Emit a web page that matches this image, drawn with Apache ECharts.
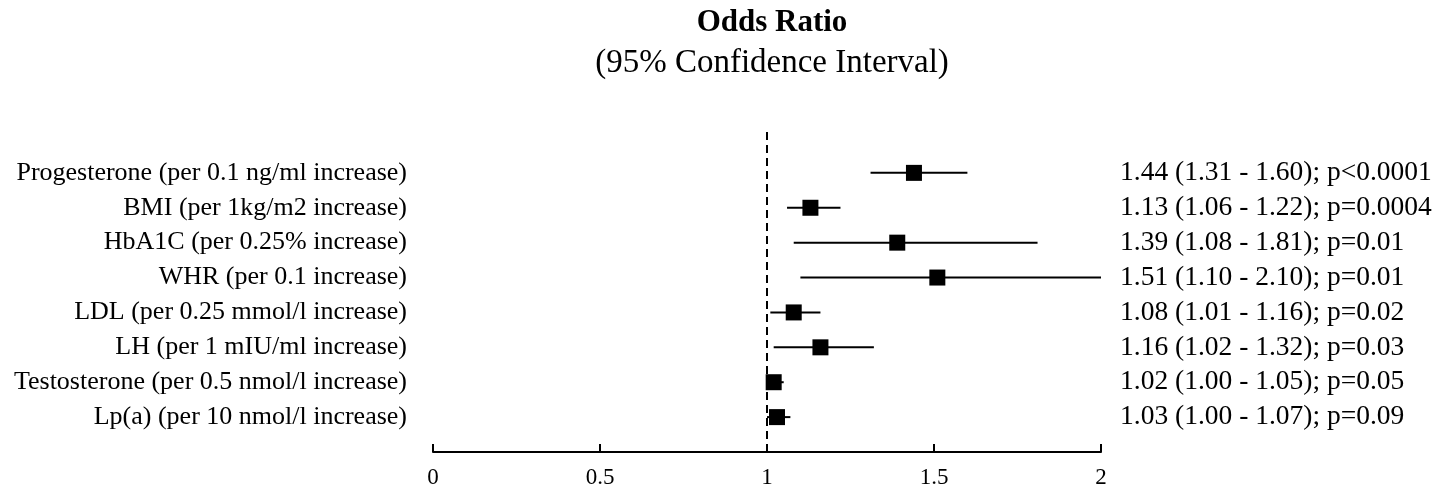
<!DOCTYPE html>
<html><head><meta charset="utf-8">
<script src="https://cdn.jsdelivr.net/npm/echarts@6/dist/echarts.min.js"></script>
<style>html,body{margin:0;padding:0;background:#fff}#c{width:1449px;height:490px}</style>
</head><body><div id="c"></div>
<script>
const categories = [
  'Progesterone (per 0.1 ng/ml increase)',
  'BMI (per 1kg/m2 increase)',
  'HbA1C (per 0.25% increase)',
  'WHR (per 0.1 increase)',
  'LDL (per 0.25 mmol/l increase)',
  'LH (per 1 mIU/ml increase)',
  'Testosterone (per 0.5 nmol/l increase)',
  'Lp(a) (per 10 nmol/l increase)'
];
const oddsRatio = [1.44, 1.13, 1.39, 1.51, 1.08, 1.16, 1.02, 1.03];
const ciLow     = [1.31, 1.06, 1.08, 1.10, 1.01, 1.02, 1.00, 1.00];
const ciHigh    = [1.60, 1.22, 1.81, 2.10, 1.16, 1.32, 1.05, 1.07];
const pText     = ['p<0.0001', 'p=0.0004', 'p=0.01', 'p=0.01', 'p=0.02', 'p=0.03', 'p=0.05', 'p=0.09'];
const xTicks = ['0', '0.5', '1', '1.5', '2'];

const n = categories.length;
const rowVal = i => n - i; // top row highest
const rightLabels = oddsRatio.map((v, i) =>
  v.toFixed(2) + ' (' + ciLow[i].toFixed(2) + ' - ' + ciHigh[i].toFixed(2) + '); ' + pText[i]);

const FONT = '"Liberation Serif", "Times New Roman", serif';
const labelFor = arr => v => {
  const k = Math.round(v);
  if (Math.abs(v - k) > 1e-6) return '';
  const i = n - k;
  return (i >= 0 && i < n) ? arr[i] : '';
};

const chart = echarts.init(document.getElementById('c'));
chart.setOption({
  animation: false,
  backgroundColor: '#fff',
  title: [
    { text: 'Odds Ratio', left: 767, textAlign: 'center', top: 2,
      textStyle: { fontFamily: FONT, fontWeight: 'bold', fontSize: 31, color: '#000' } },
    { text: '(95% Confidence Interval)', left: 767, textAlign: 'center', top: 42,
      textStyle: { fontFamily: FONT, fontWeight: 'normal', fontSize: 33, color: '#000' } }
  ],
  grid: { left: 433, right: 348, top: 131, bottom: 38 },
  xAxis: {
    type: 'value', min: 0, max: 2, interval: 0.5,
    axisLine: { show: true, onZero: false, lineStyle: { color: '#000', width: 2 } },
    axisTick: { show: true, inside: true, length: 8, lineStyle: { color: '#000', width: 2 } },
    axisLabel: { fontFamily: FONT, fontSize: 23, color: '#000', margin: 14,
      formatter: v => { const i = Math.round(v / 0.5); return xTicks[i] !== undefined ? xTicks[i] : ''; } },
    splitLine: { show: false }
  },
  yAxis: [
    { type: 'value', min: 0, max: 9.2, interval: 1, position: 'left',
      axisLine: { show: false }, axisTick: { show: false }, splitLine: { show: false },
      axisLabel: { fontFamily: FONT, fontSize: 26, color: '#000', margin: 26, formatter: labelFor(categories) } },
    { type: 'value', min: 0, max: 9.2, interval: 1, position: 'right',
      axisLine: { show: false }, axisTick: { show: false }, splitLine: { show: false },
      axisLabel: { fontFamily: FONT, fontSize: 27.5, color: '#000', margin: 19, formatter: labelFor(rightLabels) } }
  ],
  series: [
    { type: 'line', data: [[1, 0], [1, 9.2]], symbol: 'none', silent: true,
      lineStyle: { color: '#000', width: 2, type: [8, 5] }, z: 1 },
    { type: 'custom', clip: true, z: 2,
      data: oddsRatio.map((v, i) => [ciLow[i], ciHigh[i], rowVal(i)]),
      renderItem: (params, api) => {
        const a = api.coord([api.value(0), api.value(2)]);
        const b = api.coord([api.value(1), api.value(2)]);
        return { type: 'line', shape: { x1: a[0], y1: a[1], x2: b[0], y2: b[1] },
          style: { stroke: '#000', lineWidth: 2 } };
      },
      encode: { x: [0, 1], y: 2 } },
    { type: 'scatter', z: 3, symbol: 'rect', symbolSize: 16,
      itemStyle: { color: '#000', opacity: 1 },
      data: oddsRatio.map((v, i) => [v, rowVal(i)]) }
  ]
});
</script></body></html>
